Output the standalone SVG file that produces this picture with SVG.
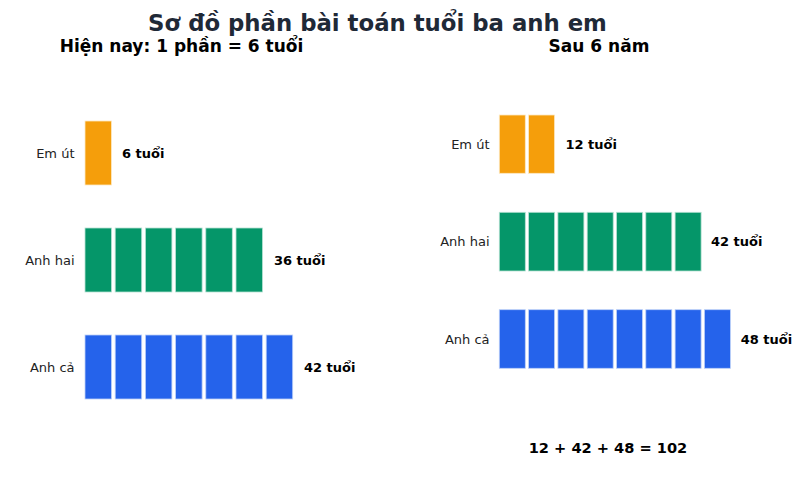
<svg xmlns="http://www.w3.org/2000/svg" width="800" height="494" viewBox="0 0 800 494">
<style>
text{font-family:"DejaVu Sans","Liberation Sans",sans-serif}
.title{font-size:22.8px;font-weight:bold;fill:#1f2937;text-anchor:middle}
.sub{font-size:17px;font-weight:bold;fill:#000;text-anchor:middle}
.lbl{font-size:13px;fill:#222;text-anchor:end}
.val{font-size:13px;font-weight:bold;fill:#000}
.sum{font-size:14.6px;font-weight:bold;fill:#000;text-anchor:middle}
.o{fill:#f59e0b;stroke:#fde9c4;stroke-width:0.8}
.g{fill:#059669;stroke:#b6e2d3;stroke-width:0.8}
.b{fill:#2563eb;stroke:#bcd0f8;stroke-width:0.8}
</style>
<rect width="800" height="494" fill="#fff"/>
<text class="title" x="377.5" y="30.5">Sơ đồ phần bài toán tuổi ba anh em</text>
<text class="sub" x="181.5" y="52">Hiện nay: 1 phần = 6 tuổi</text>
<text class="sub" x="599" y="52">Sau 6 năm</text>

<g id="left-em-ut">
<text class="lbl" x="74.5" y="157.7">Em út</text>
<rect class="o" x="85" y="121" width="26.5" height="64"/>
<text class="val" x="122" y="157.7">6 tuổi</text>
</g>
<g id="left-anh-hai">
<text class="lbl" x="74.5" y="264.7">Anh hai</text>
<rect class="g" x="85" y="228" width="26.5" height="64"/>
<rect class="g" x="115.2" y="228" width="26.5" height="64"/>
<rect class="g" x="145.4" y="228" width="26.5" height="64"/>
<rect class="g" x="175.6" y="228" width="26.5" height="64"/>
<rect class="g" x="205.8" y="228" width="26.5" height="64"/>
<rect class="g" x="236" y="228" width="26.5" height="64"/>
<text class="val" x="274" y="264.7">36 tuổi</text>
</g>
<g id="left-anh-ca">
<text class="lbl" x="74.5" y="371.7">Anh cả</text>
<rect class="b" x="85" y="335" width="26.5" height="64"/>
<rect class="b" x="115.2" y="335" width="26.5" height="64"/>
<rect class="b" x="145.4" y="335" width="26.5" height="64"/>
<rect class="b" x="175.6" y="335" width="26.5" height="64"/>
<rect class="b" x="205.8" y="335" width="26.5" height="64"/>
<rect class="b" x="236" y="335" width="26.5" height="64"/>
<rect class="b" x="266.2" y="335" width="26.5" height="64"/>
<text class="val" x="304" y="371.7">42 tuổi</text>
</g>

<g id="right-em-ut">
<text class="lbl" x="489.5" y="148.9">Em út</text>
<rect class="o" x="499.3" y="115" width="26" height="58.3"/>
<rect class="o" x="528.6" y="115" width="26" height="58.3"/>
<text class="val" x="565.5" y="148.9">12 tuổi</text>
</g>
<g id="right-anh-hai">
<text class="lbl" x="489.5" y="246.4">Anh hai</text>
<rect class="g" x="499.3" y="212.3" width="26" height="58.7"/>
<rect class="g" x="528.6" y="212.3" width="26" height="58.7"/>
<rect class="g" x="557.9" y="212.3" width="26" height="58.7"/>
<rect class="g" x="587.2" y="212.3" width="26" height="58.7"/>
<rect class="g" x="616.5" y="212.3" width="26" height="58.7"/>
<rect class="g" x="645.8" y="212.3" width="26" height="58.7"/>
<rect class="g" x="675.1" y="212.3" width="26" height="58.7"/>
<text class="val" x="711" y="246.4">42 tuổi</text>
</g>
<g id="right-anh-ca">
<text class="lbl" x="489.5" y="343.7">Anh cả</text>
<rect class="b" x="499.3" y="309.7" width="26" height="58.6"/>
<rect class="b" x="528.6" y="309.7" width="26" height="58.6"/>
<rect class="b" x="557.9" y="309.7" width="26" height="58.6"/>
<rect class="b" x="587.2" y="309.7" width="26" height="58.6"/>
<rect class="b" x="616.5" y="309.7" width="26" height="58.6"/>
<rect class="b" x="645.8" y="309.7" width="26" height="58.6"/>
<rect class="b" x="675.1" y="309.7" width="26" height="58.6"/>
<rect class="b" x="704.4" y="309.7" width="26" height="58.6"/>
<text class="val" x="740.7" y="343.7">48 tuổi</text>
</g>
<g id="connectors"></g>
<text class="sum" x="608" y="453">12 + 42 + 48 = 102</text>
</svg>
